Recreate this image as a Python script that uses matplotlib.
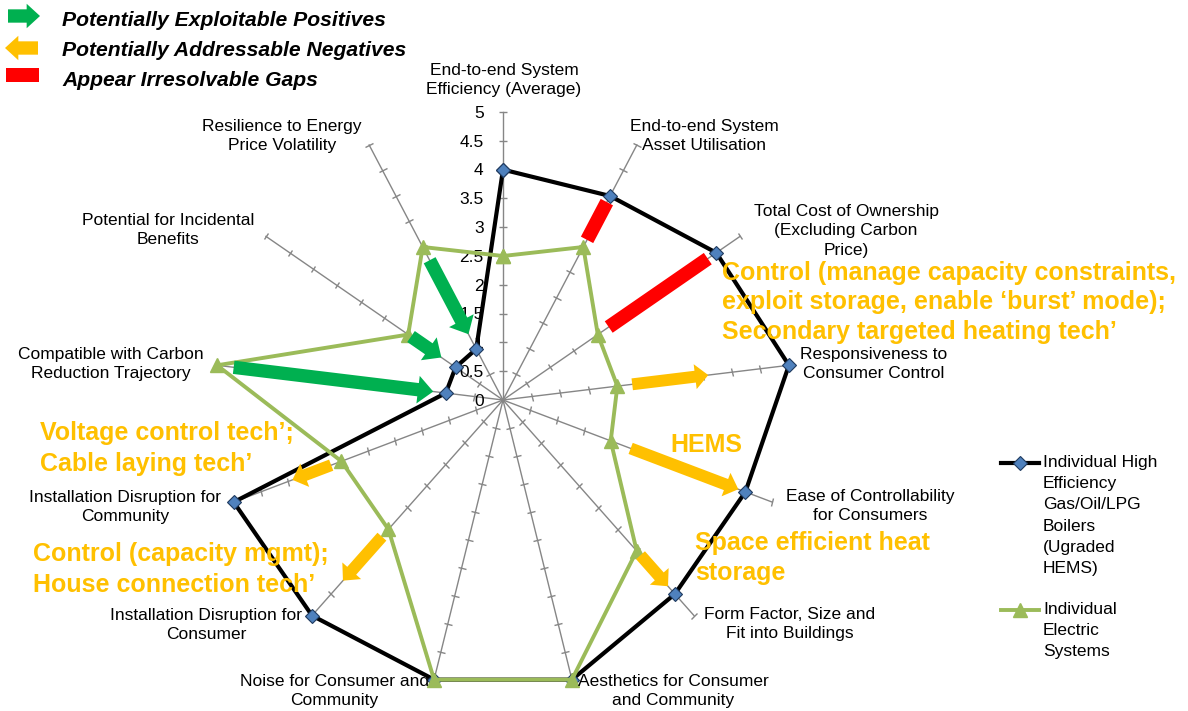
import numpy as np
import matplotlib
matplotlib.use("Agg")
import matplotlib.pyplot as plt
from matplotlib.markers import MarkerStyle
from matplotlib.transforms import Affine2D
from matplotlib.lines import Line2D
from matplotlib.patches import Rectangle

plt.rcParams['font.family'] = ['Liberation Sans', 'DejaVu Sans']

W, H = 1188, 711

categories = [
    "End-to-end System\nEfficiency (Average)",
    "End-to-end System\nAsset Utilisation",
    "Total Cost of Ownership\n(Excluding Carbon\nPrice)",
    "Responsiveness to\nConsumer Control",
    "Ease of Controllability\nfor Consumers",
    "Form Factor, Size and\nFit into Buildings",
    "Aesthetics for Consumer\nand Community",
    "Noise for Consumer and\nCommunity",
    "Installation Disruption for\nConsumer",
    "Installation Disruption for\nCommunity",
    "Compatible with Carbon\nReduction Trajectory",
    "Potential for Incidental\nBenefits",
    "Resilience to Energy\nPrice Volatility",
]
boilers = [4, 4, 4.5, 5, 4.5, 4.5, 5, 5, 5, 5, 1, 1, 1]
electric = [2.5, 3, 2, 2, 2, 3.5, 5, 5, 3, 3, 5, 2, 3]
series_names = ["Individual High\nEfficiency\nGas/Oil/LPG\nBoilers\n(Ugraded\nHEMS)",
                "Individual\nElectric\nSystems"]
r_ticks = [0, 0.5, 1, 1.5, 2, 2.5, 3, 3.5, 4, 4.5, 5]
r_tick_labels = ["0", "0.5", "1", "1.5", "2", "2.5", "3", "3.5", "4", "4.5", "5"]

# (axis index, r from, r to)
positives = [(12, 2.74, 1.29), (11, 1.94, 1.30), (10, 4.71, 1.22)]
negatives = [(3, 2.26, 3.59), (4, 2.37, 4.37), (5, 3.60, 4.32), (8, 3.17, 4.19), (9, 3.19, 3.91)]
gaps = [(1, 3.14, 3.88), (2, 2.23, 4.32)]

key_labels = ["Potentially Exploitable Positives",
              "Potentially Addressable Negatives",
              "Appear Irresolvable Gaps"]

# orange notes: lines, left x, first baseline (px from top), line step
notes = [
    (["Control (manage capacity constraints,",
      "exploit storage, enable \u2018burst\u2019 mode);",
      "Secondary targeted heating tech\u2019"], 722, 280, 29.3),
    (["HEMS"], 670, 451.5, 30),
    (["Space efficient heat", "storage"], 695, 550, 30),
    (["Voltage control tech\u2019;", "Cable laying tech\u2019"], 40, 440, 30.5),
    (["Control (capacity mgmt);", "House connection tech\u2019"], 33, 561.5, 30),
]

label_pos = [(504, 80), (704, 136), (846, 231), (874, 364), (870, 506), (790, 624),
             (673, 691), (334, 691), (206, 625), (125, 507), (111, 364), (168, 230),
             (282, 136)]

GREEN_S = "#9BBB59"
BLUE = "#4F81BD"
POS = "#00B050"
NEG = "#FFC000"
GAP = "#FF0000"
SPOKE = "#868686"


def fx(x):
    return x / W


def fy(y):
    return 1 - y / H


fig = plt.figure(figsize=(W / 100, H / 100), dpi=100)
cx, cy, R = 503, 400, 288
ax = fig.add_axes([fx(cx - R), fy(cy + R), 2 * R / W, 2 * R / H], projection="polar")
ax.set_theta_offset(np.pi / 2)
ax.set_theta_direction(-1)
ax.set_ylim(0, 5)
ax.axis("off")

n = len(categories)
theta = np.arange(n) * 2 * np.pi / n

# spokes with tick marks
for k, t in enumerate(theta):
    ax.plot([t, t], [0, r_ticks[-1]], color=SPOKE, lw=1, clip_on=False, zorder=1)
    mk = MarkerStyle("_", transform=Affine2D().rotate_deg(-k * 360 / n))
    ax.plot([t] * (len(r_ticks) - 1), r_ticks[1:], ls="none", marker=mk, ms=6,
            mec=SPOKE, mew=1, clip_on=False, zorder=1)

for r, lbl in zip(r_ticks, r_tick_labels):
    ax.annotate(lbl, xy=(0, r), xytext=(-14, -1), textcoords="offset points",
                ha="right", va="center", fontsize=12.5, annotation_clip=False)

tt = np.append(theta, theta[0])
ax.plot(tt, boilers + boilers[:1], color="black", lw=3, marker="D", ms=7.5,
        mfc=BLUE, mec="#1F3A5F", mew=0.8, clip_on=False, zorder=3)
ax.plot(tt, electric + electric[:1], color=GREEN_S, lw=2.8, marker="^", ms=10,
        mfc=GREEN_S, mec=GREEN_S, clip_on=False, zorder=4)

for k, r0, r1 in gaps:
    ax.plot([theta[k], theta[k]], [r0, r1], color=GAP, lw=10, solid_capstyle="butt",
            clip_on=False, zorder=5)

for k, r0, r1 in positives:
    ax.annotate("", xy=(theta[k], r1), xytext=(theta[k], r0), annotation_clip=False,
                arrowprops=dict(arrowstyle="simple,head_length=0.55,head_width=1.0,tail_width=0.48",
                                fc=POS, ec="none", shrinkA=0, shrinkB=0, mutation_scale=20),
                zorder=5)

for k, r0, r1 in negatives:
    ax.annotate("", xy=(theta[k], r1), xytext=(theta[k], r0), annotation_clip=False,
                arrowprops=dict(arrowstyle="simple,head_length=0.5,head_width=0.95,tail_width=0.45",
                                fc=NEG, ec="none", shrinkA=0, shrinkB=0, mutation_scale=19),
                zorder=5)

for lbl, (x, y) in zip(categories, label_pos):
    fig.text(fx(x), fy(y), lbl, ha="center", va="center", fontsize=12.5,
             multialignment="center", linespacing=1.38)

# orange notes
for lines, x, y0, step in notes:
    for i, line in enumerate(lines):
        fig.text(fx(x), fy(y0 + i * step), line, ha="left", va="baseline",
                 fontsize=18, fontweight="bold", color=NEG)

# key at top left
ax.annotate("", xy=(40, H - 16), xytext=(8, H - 16), xycoords="figure pixels",
            textcoords="figure pixels", annotation_clip=False,
            arrowprops=dict(arrowstyle="simple,head_length=0.6,head_width=1.1,tail_width=0.6",
                            fc=POS, ec="none", shrinkA=0, shrinkB=0, mutation_scale=16))
ax.annotate("", xy=(5, H - 48), xytext=(38, H - 48), xycoords="figure pixels",
            textcoords="figure pixels", annotation_clip=False,
            arrowprops=dict(arrowstyle="simple,head_length=0.6,head_width=1.1,tail_width=0.6",
                            fc=NEG, ec="none", shrinkA=0, shrinkB=0, mutation_scale=16))
fig.add_artist(Rectangle((fx(6), fy(82)), 33 / W, 14 / H, transform=fig.transFigure,
                         color=GAP, lw=0))
for i, lbl in enumerate(key_labels):
    fig.text(fx(62), fy(26.5 + i * 29.5), lbl, ha="left", va="baseline", fontsize=15.2,
             fontweight="bold", fontstyle="italic")

# series legend at right
fig.add_artist(Line2D([fx(1001), fx(1039)], [fy(463), fy(463)], transform=fig.transFigure,
                      color="black", lw=3))
fig.add_artist(Line2D([fx(1020)], [fy(463)], transform=fig.transFigure, marker="D", ms=7.5,
                      mfc=BLUE, mec="#1F3A5F", mew=0.8))
fig.add_artist(Line2D([fx(1001), fx(1039)], [fy(610), fy(610)], transform=fig.transFigure,
                      color=GREEN_S, lw=2.8))
fig.add_artist(Line2D([fx(1020)], [fy(610)], transform=fig.transFigure, marker="^", ms=10,
                      mfc=GREEN_S, mec=GREEN_S))
fig.text(fx(1043), fy(455), series_names[0], ha="left", va="top", fontsize=12.5,
         linespacing=1.52)
fig.text(fx(1043), fy(602), series_names[1], ha="left", va="top", fontsize=12.5,
         linespacing=1.52)

fig.savefig("out.png", dpi=100)
